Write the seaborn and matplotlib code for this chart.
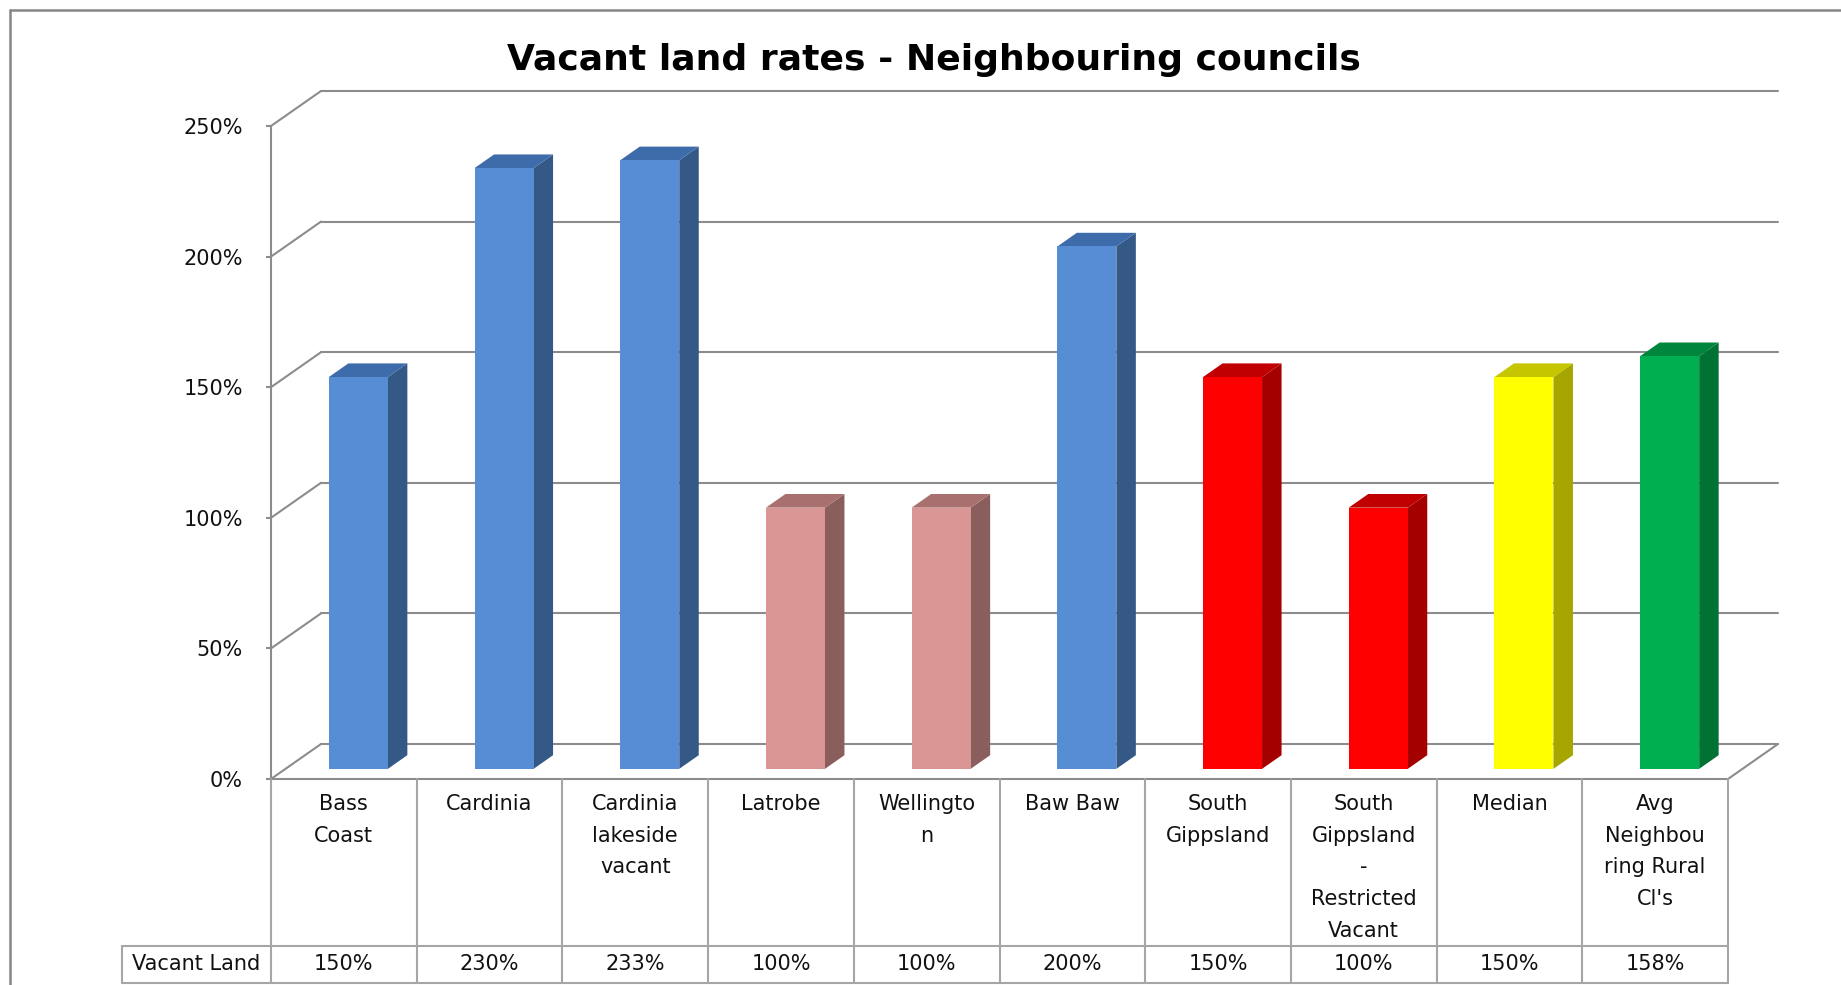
import matplotlib
matplotlib.use("Agg")
import matplotlib.pyplot as plt
import matplotlib.transforms as mtransforms
from matplotlib.patches import Polygon
from matplotlib.lines import Line2D
import seaborn as sns
import pandas as pd

# ---------------- data ----------------
categories = ["Bass Coast", "Cardinia", "Cardinia lakeside vacant", "Latrobe",
              "Wellington", "Baw Baw", "South Gippsland",
              "South Gippsland - Restricted Vacant", "Median",
              "Avg Neighbouring Rural Cl's"]
label_lines = [["Bass", "Coast"], ["Cardinia"], ["Cardinia", "lakeside", "vacant"],
               ["Latrobe"], ["Wellingto", "n"], ["Baw Baw"], ["South", "Gippsland"],
               ["South", "Gippsland", "-", "Restricted", "Vacant"], ["Median"],
               ["Avg", "Neighbou", "ring Rural", "Cl's"]]
values = [150, 230, 233, 100, 100, 200, 150, 100, 150, 158]
series_name = "Vacant Land"
title = "Vacant land rates - Neighbouring councils"
yticks = [0, 50, 100, 150, 200, 250]

front_colors = ["#568DD5", "#568DD5", "#568DD5", "#D99694", "#D99694",
                "#568DD5", "#FF0000", "#FF0000", "#FFFF00", "#00B050"]
side_colors = ["#355987", "#355987", "#355987", "#8B5E5E", "#8B5E5E",
               "#355987", "#A50000", "#A50000", "#A6A600", "#007233"]
top_colors = ["#3E6CAA", "#3E6CAA", "#3E6CAA", "#A8706E", "#A8706E",
              "#3E6CAA", "#C00000", "#C00000", "#C6C600", "#00863C"]

# ---------------- layout ----------------
W, H = 1841, 985
sns.set_theme(style="white")
plt.rcParams["font.family"] = ["DejaVu Sans"]

fig = plt.figure(figsize=(W / 100, H / 100), dpi=100)
fig.patch.set_facecolor("white")

x_left, x_right = 271, 1728     # front plane in pixels
y_zero, y_top = 779, 126
ax = fig.add_axes([x_left / W, 1 - y_zero / H, (x_right - x_left) / W, (y_zero - y_top) / H])
ax.set_facecolor("none")

df = pd.DataFrame({"cat": categories, "val": values})
pal = dict(zip(categories, front_colors))
sns.barplot(data=df, x="cat", y="val", hue="cat", palette=pal, legend=False,
            width=0.405, saturation=1, ax=ax, linewidth=0, edgecolor="none")

ax.set_xlim(-0.5, len(categories) - 0.5)
ax.set_ylim(0, 250)

px_per_x = (x_right - x_left) / len(categories)
px_per_y = (y_zero - y_top) / 250.0
DX = 50 / px_per_x      # depth offset in data units
DY = 35 / px_per_y

grid_c = "#8C8C8C"
glw = 1.5

# back wall gridlines and side wall diagonals
for v in yticks:
    ax.add_line(Line2D([-0.5 + DX, len(categories) - 0.5 + DX], [v + DY, v + DY],
                       color=grid_c, lw=glw, clip_on=False, zorder=0))
    ax.add_line(Line2D([-0.5, -0.5 + DX], [v, v + DY],
                       color=grid_c, lw=glw, clip_on=False, zorder=0))
# right floor edge
ax.add_line(Line2D([len(categories) - 0.5, len(categories) - 0.5 + DX], [0, DY],
                   color=grid_c, lw=glw, clip_on=False, zorder=0))

# 3D bar faces
d0, d1 = 0.29, 0.39
for i, p in enumerate(ax.patches):
    p.set_x(p.get_x() + d0 * DX)
    p.set_y(p.get_y() + d0 * DY)
    p.set_zorder(3)
    x0 = p.get_x()
    x1 = x0 + p.get_width()
    yb = p.get_y()
    yt = yb + p.get_height()
    side = Polygon([(x1, yb), (x1 + d1 * DX, yb + d1 * DY), (x1 + d1 * DX, yt + d1 * DY), (x1, yt)],
                   closed=True, facecolor=side_colors[i], edgecolor="none", clip_on=False, zorder=2)
    top = Polygon([(x0, yt), (x1, yt), (x1 + d1 * DX, yt + d1 * DY), (x0 + d1 * DX, yt + d1 * DY)],
                  closed=True, facecolor=top_colors[i], edgecolor="none", clip_on=False, zorder=2)
    ax.add_patch(side)
    ax.add_patch(top)
    p.set_clip_on(False)

# axes styling
fs = 15
for s in ["top", "right"]:
    ax.spines[s].set_visible(False)
for s in ["left", "bottom"]:
    ax.spines[s].set_color(grid_c)
    ax.spines[s].set_linewidth(glw)
ax.set_yticks(yticks)
ax.set_yticklabels([f"{v}%" for v in yticks], fontsize=fs, color="#111111")
ax.tick_params(axis="y", which="both", left=True, length=3.6, width=glw, color=grid_c, pad=16.5)
ax.set_xticks([])
ax.set_xlabel("")
ax.set_ylabel("")

# ---------------- data table ----------------
tr = mtransforms.blended_transform_factory(ax.transData, fig.transFigure)
def fy(py):
    return 1 - py / H

tbl_c = "#A6A6A6"
row_top, row_mid, row_bot = 779, 946, 983
n = len(categories)
for k in range(n + 1):
    xk = k - 0.5
    fig.add_artist(Line2D([xk, xk], [fy(row_top), fy(row_bot)], transform=tr,
                          color=tbl_c, lw=1.5, clip_on=False))
fig.add_artist(Line2D([122 / W, x_right / W], [fy(row_mid), fy(row_mid)],
                      transform=fig.transFigure, color=tbl_c, lw=1.5))
fig.add_artist(Line2D([122 / W, x_right / W], [fy(row_bot), fy(row_bot)],
                      transform=fig.transFigure, color=tbl_c, lw=1.5))
fig.add_artist(Line2D([122 / W, 122 / W], [fy(row_mid), fy(row_bot)],
                      transform=fig.transFigure, color=tbl_c, lw=1.5))

txt_c = "#111111"
for i, lines in enumerate(label_lines):
    for j, ln in enumerate(lines):
        t = fig.text(0, fy(804 + 31.7 * j), ln, transform=tr, ha="center", va="center",
                     fontsize=fs, color=txt_c)
        t.set_x(i)
    t = fig.text(0, fy(964), f"{values[i]}%", transform=tr, ha="center", va="center",
                 fontsize=fs, color=txt_c)
    t.set_x(i)
fig.text((122 + 271) / 2 / W, fy(964), series_name, ha="center", va="center",
         fontsize=fs, color=txt_c)

# title
fig.text(934 / W, fy(60), title, ha="center", va="center", fontsize=26,
         fontweight="bold", color="black")

# outer chart frame
fig.add_artist(Line2D([10 / W, 1.0], [fy(10), fy(10)], transform=fig.transFigure,
                      color="#878787", lw=1.8))
fig.add_artist(Line2D([10 / W, 10 / W], [fy(10), 0.0], transform=fig.transFigure,
                      color="#878787", lw=1.8))

fig.savefig("out.png", dpi=100, facecolor="white")
